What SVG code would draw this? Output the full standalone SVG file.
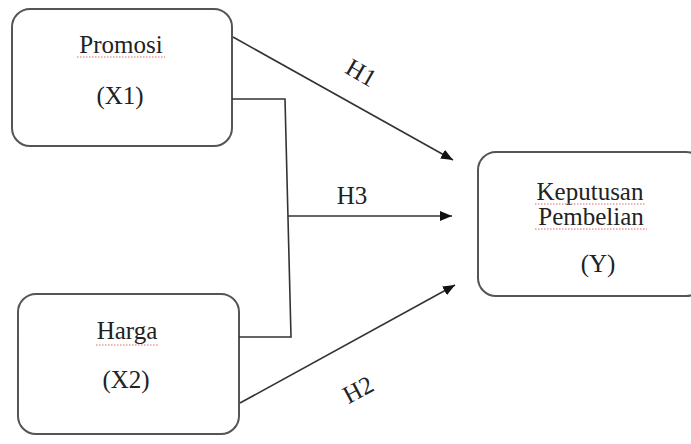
<svg xmlns="http://www.w3.org/2000/svg" width="691" height="444" viewBox="0 0 691 444">
<style>
.box{fill:#fff;stroke:#555;stroke-width:2}
.t{font-family:"Liberation Serif","DejaVu Serif","Noto Serif",serif;font-size:25px;fill:#222;text-anchor:middle}
.ln{fill:none;stroke:#333;stroke-width:1.6}
.sq{fill:none;stroke:#d66;stroke-width:1;stroke-dasharray:1.5 1.5}
</style>
<defs>
<marker id="ah" viewBox="0 0 12 10" refX="12" refY="5" markerWidth="12" markerHeight="10" markerUnits="userSpaceOnUse" orient="auto">
<path d="M0,0 L12,5 L0,10 z" fill="#111"/>
</marker>
</defs>
<rect width="691" height="444" fill="#fff"/>
<g id="promosi">
<rect class="box" x="12" y="9" width="220" height="137" rx="18"/>
<text class="t" x="121" y="53">Promosi</text>
<path class="sq" d="M77,57 H165"/>
<text class="t" x="120" y="104">(X1)</text>
</g>
<g id="harga">
<rect class="box" x="18" y="294" width="221" height="140" rx="18"/>
<text class="t" x="127" y="339">Harga</text>
<path class="sq" d="M96,345 H158"/>
<text class="t" x="126" y="388">(X2)</text>
</g>
<g id="keputusan">
<rect class="box" x="478" y="152" width="226" height="144" rx="18"/>
<text class="t" x="590" y="200">Keputusan</text>
<path class="sq" d="M535,204 H646"/>
<text class="t" x="591" y="225">Pembelian</text>
<path class="sq" d="M535,229 H647"/>
<text class="t" x="598" y="272">(Y)</text>
</g>
<g id="connectors">
<line class="ln" x1="233" y1="37" x2="453" y2="160" marker-end="url(#ah)"/>
<polyline class="ln" points="232,99 285,99 291,337 239,337"/>
<line class="ln" x1="288" y1="216" x2="452" y2="216" marker-end="url(#ah)"/>
<line class="ln" x1="240" y1="403" x2="455" y2="285" marker-end="url(#ah)"/>
<text class="t" transform="translate(357,80) rotate(30)">H1</text>
<text class="t" x="352" y="204">H3</text>
<text class="t" transform="translate(362,397) rotate(-28)">H2</text>
</g>
</svg>
